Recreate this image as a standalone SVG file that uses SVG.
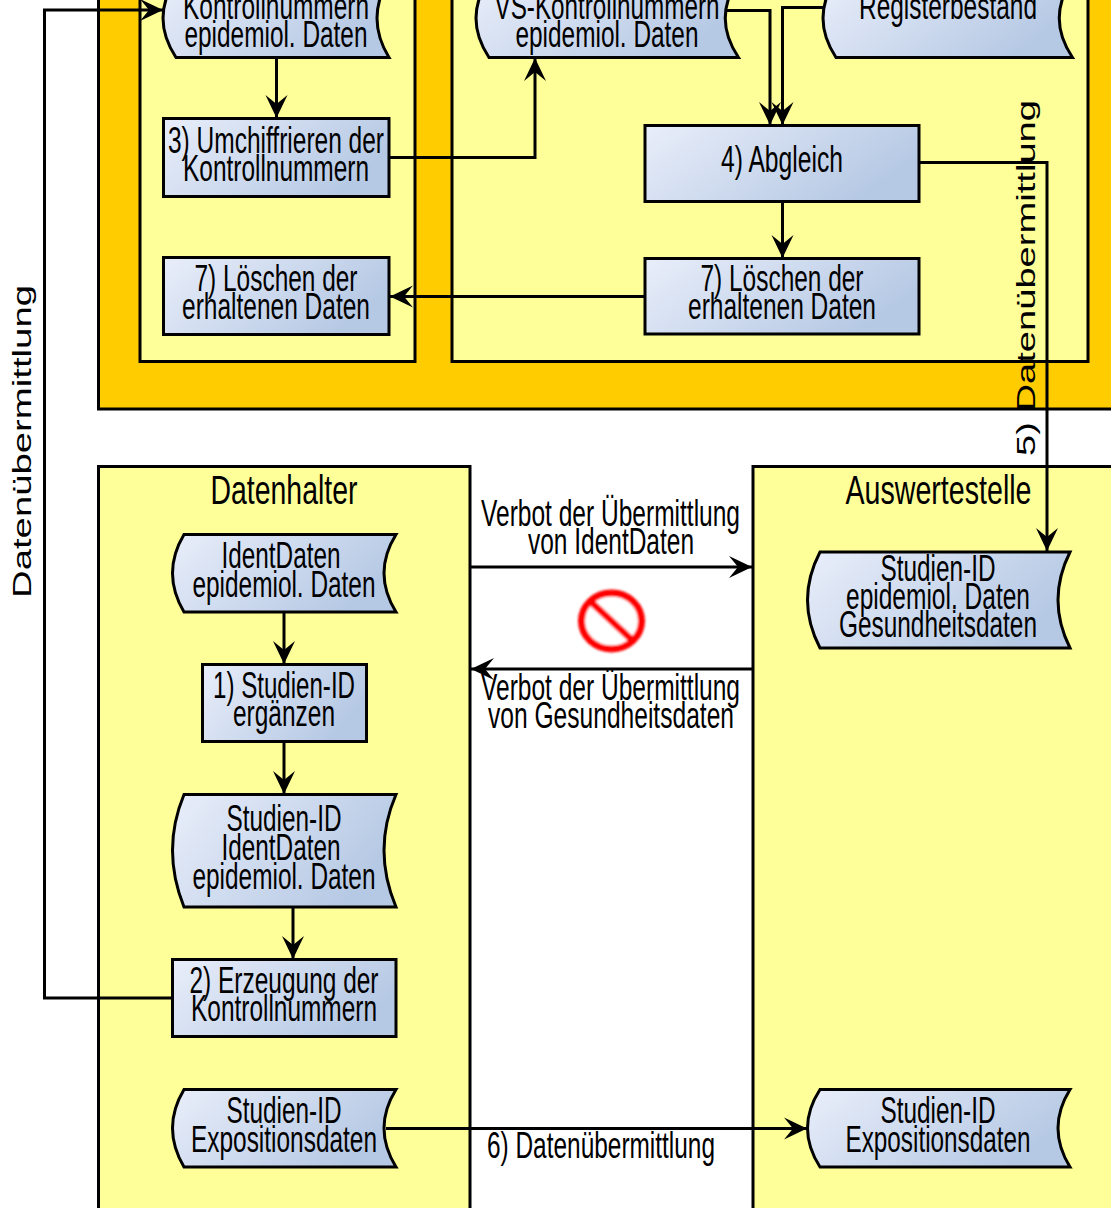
<svg xmlns="http://www.w3.org/2000/svg" width="1111" height="1208" viewBox="0 0 1111 1208">
<style>
.p{fill:#ffff99;stroke:#000;stroke-width:3}
.s{fill:url(#g);stroke:#000;stroke-width:3}
.c{fill:none;stroke:#000;stroke-width:3;marker-end:url(#a)}
.t{font-family:"Liberation Sans",Arial,sans-serif;font-size:36px;fill:#000;text-anchor:middle}
.h{font-size:41px}
.r{font-size:25px}
</style>
<defs>
<linearGradient id="g" x1="0" y1="0" x2="1" y2="0.4"><stop offset="0" stop-color="#e9eefa"/><stop offset="1" stop-color="#b6c9e4"/></linearGradient>
<filter id="b" x="-20%" y="-20%" width="140%" height="140%"><feGaussianBlur stdDeviation="0.8"/></filter>
<marker id="a" markerUnits="userSpaceOnUse" markerWidth="28" markerHeight="26" refX="23" refY="12" orient="auto"><path d="M0,1 L23,12 L0,23 L9,12 Z" fill="#000"/></marker>
</defs>
<g id="panels">
<rect x="98.500" y="-20" width="1033" height="429" fill="#ffcc00" stroke="#000" stroke-width="3"/>
<rect class="p" x="140" y="-20" width="275" height="381.500"/>
<rect class="p" x="452" y="-20" width="636" height="381.500"/>
<rect class="p" x="98.500" y="466.500" width="371.500" height="762"/>
<rect class="p" x="753" y="466.500" width="378" height="762"/>
</g>
<g id="connectors">
<path class="c" d="M172,998 H44.500 V10 H163"/>
<path class="c" d="M276.500,57 V118"/>
<path class="c" d="M389,157.500 H535 V58"/>
<path class="c" d="M727,10.500 H770 V125"/>
<path class="c" d="M823,7.500 H782.500 V125"/>
<path class="c" d="M919,162.500 H1047 V551"/>
<path class="c" d="M782.500,201 V258"/>
<path class="c" d="M645,296.500 H390"/>
<path class="c" d="M284,612 V664"/>
<path class="c" d="M284,742 V794"/>
<path class="c" d="M293,907 V959"/>
<path class="c" d="M470,567 H752"/>
<path class="c" d="M753,669 H471"/>
<path class="c" d="M386,1128.500 H807"/>
</g>
<g id="n-kontroll"><path class="s" d="M176,-21 H389 Q365,18 389,57.500 H176 Q150,18 176,-21 Z"/>
<text class="t" x="276" y="19" textLength="186" lengthAdjust="spacingAndGlyphs">Kontrollnummern</text>
<text class="t" x="276" y="47" textLength="183" lengthAdjust="spacingAndGlyphs">epidemiol. Daten</text></g>
<g id="n-umchiffrieren"><rect class="s" x="163.500" y="118.500" width="225.500" height="78"/>
<text class="t" x="276" y="153" textLength="216" lengthAdjust="spacingAndGlyphs">3) Umchiffrieren der</text>
<text class="t" x="276" y="181" textLength="186" lengthAdjust="spacingAndGlyphs">Kontrollnummern</text></g>
<g id="n-loeschen-links"><rect class="s" x="163.500" y="257.500" width="225.500" height="77"/>
<text class="t" x="276" y="291" textLength="163" lengthAdjust="spacingAndGlyphs">7) Löschen der</text>
<text class="t" x="276" y="319" textLength="188" lengthAdjust="spacingAndGlyphs">erhaltenen Daten</text></g>
<g id="n-vs"><path class="s" d="M489,-21 H738.500 Q712,18 738.500,57.500 H489 Q463,18 489,-21 Z"/>
<text class="t" x="607" y="19" textLength="225" lengthAdjust="spacingAndGlyphs">VS-Kontrollnummern</text>
<text class="t" x="607" y="47" textLength="183" lengthAdjust="spacingAndGlyphs">epidemiol. Daten</text></g>
<g id="n-register"><path class="s" d="M836,-21 H1072.500 Q1046,18 1072.500,57.500 H836 Q810,18 836,-21 Z"/>
<text class="t" x="948" y="19" textLength="178" lengthAdjust="spacingAndGlyphs">Registerbestand</text></g>
<g id="n-abgleich"><rect class="s" x="645" y="125.500" width="274" height="76"/>
<text class="t" x="782" y="172" textLength="122" lengthAdjust="spacingAndGlyphs">4) Abgleich</text></g>
<g id="n-loeschen-rechts"><rect class="s" x="645" y="258.500" width="274" height="75.500"/>
<text class="t" x="782" y="291" textLength="163" lengthAdjust="spacingAndGlyphs">7) Löschen der</text>
<text class="t" x="782" y="319" textLength="188" lengthAdjust="spacingAndGlyphs">erhaltenen Daten</text></g>
<g id="n-datenhalter"><text class="t h" x="284" y="504" textLength="147" lengthAdjust="spacingAndGlyphs">Datenhalter</text></g>
<g id="n-auswertestelle"><text class="t h" x="938.500" y="504" textLength="186" lengthAdjust="spacingAndGlyphs">Auswertestelle</text></g>
<g id="n-ident"><path class="s" d="M184,534.500 H396 Q372,573 396,612 H184 Q161,573 184,534.500 Z"/>
<text class="t" x="281" y="568" textLength="119" lengthAdjust="spacingAndGlyphs">IdentDaten</text>
<text class="t" x="284" y="597" textLength="183" lengthAdjust="spacingAndGlyphs">epidemiol. Daten</text></g>
<g id="n-studien-ergaenzen"><rect class="s" x="202.500" y="664.500" width="164" height="77"/>
<text class="t" x="284" y="698" textLength="142" lengthAdjust="spacingAndGlyphs">1) Studien-ID</text>
<text class="t" x="284" y="726" textLength="102" lengthAdjust="spacingAndGlyphs">ergänzen</text></g>
<g id="n-studien-ident"><path class="s" d="M184,794.500 H396 Q372,850 396,907 H184 Q161,850 184,794.500 Z"/>
<text class="t" x="284" y="831" textLength="115" lengthAdjust="spacingAndGlyphs">Studien-ID</text>
<text class="t" x="281" y="860" textLength="119" lengthAdjust="spacingAndGlyphs">IdentDaten</text>
<text class="t" x="284" y="889" textLength="183" lengthAdjust="spacingAndGlyphs">epidemiol. Daten</text></g>
<g id="n-erzeugung"><rect class="s" x="172.500" y="959.500" width="223.500" height="77"/>
<text class="t" x="284" y="993" textLength="189" lengthAdjust="spacingAndGlyphs">2) Erzeugung der</text>
<text class="t" x="284" y="1021" textLength="186" lengthAdjust="spacingAndGlyphs">Kontrollnummern</text></g>
<g id="n-expo-links"><path class="s" d="M184,1089.500 H396 Q372,1128 396,1167 H184 Q161,1128 184,1089.500 Z"/>
<text class="t" x="284" y="1123" textLength="115" lengthAdjust="spacingAndGlyphs">Studien-ID</text>
<text class="t" x="284" y="1152" textLength="186" lengthAdjust="spacingAndGlyphs">Expositionsdaten</text></g>
<g id="n-gesundheit"><path class="s" d="M820,552 H1070 Q1046,600 1070,648 H820 Q795,600 820,552 Z"/>
<text class="t" x="938" y="581" textLength="115" lengthAdjust="spacingAndGlyphs">Studien-ID</text>
<text class="t" x="938" y="609" textLength="184" lengthAdjust="spacingAndGlyphs">epidemiol. Daten</text>
<text class="t" x="938" y="637" textLength="198" lengthAdjust="spacingAndGlyphs">Gesundheitsdaten</text></g>
<g id="n-expo-rechts"><path class="s" d="M820,1089.500 H1070 Q1046,1128 1070,1167 H820 Q795,1128 820,1089.500 Z"/>
<text class="t" x="938" y="1123" textLength="115" lengthAdjust="spacingAndGlyphs">Studien-ID</text>
<text class="t" x="938" y="1152" textLength="185" lengthAdjust="spacingAndGlyphs">Expositionsdaten</text></g>
<g id="n-verbot" filter="url(#b)">
<ellipse cx="611.500" cy="621" rx="32" ry="30" fill="#fff" stroke="#e0a0a0" stroke-width="3"/>
<ellipse cx="611.500" cy="621" rx="30" ry="28" fill="#fff" stroke="#f00" stroke-width="7"/>
<path d="M590,601 L633,641" stroke="#f00" stroke-width="7" fill="none"/>
</g>
<g id="labels">
<text class="t" x="610.500" y="526" textLength="259" lengthAdjust="spacingAndGlyphs">Verbot der Übermittlung</text>
<text class="t" x="611" y="554" textLength="166" lengthAdjust="spacingAndGlyphs">von IdentDaten</text>
<text class="t" x="610.500" y="700" textLength="259" lengthAdjust="spacingAndGlyphs">Verbot der Übermittlung</text>
<text class="t" x="611" y="728" textLength="246" lengthAdjust="spacingAndGlyphs">von Gesundheitsdaten</text>
<text class="t" x="601" y="1158" textLength="228" lengthAdjust="spacingAndGlyphs">6) Datenübermittlung</text>
<text class="t r" transform="translate(31,441.500) rotate(-90)" textLength="313" lengthAdjust="spacingAndGlyphs">Datenübermittlung</text>
<text class="t r" transform="translate(1035,278) rotate(-90)" textLength="356" lengthAdjust="spacingAndGlyphs">5) Datenübermittlung</text>
</g>
</svg>
